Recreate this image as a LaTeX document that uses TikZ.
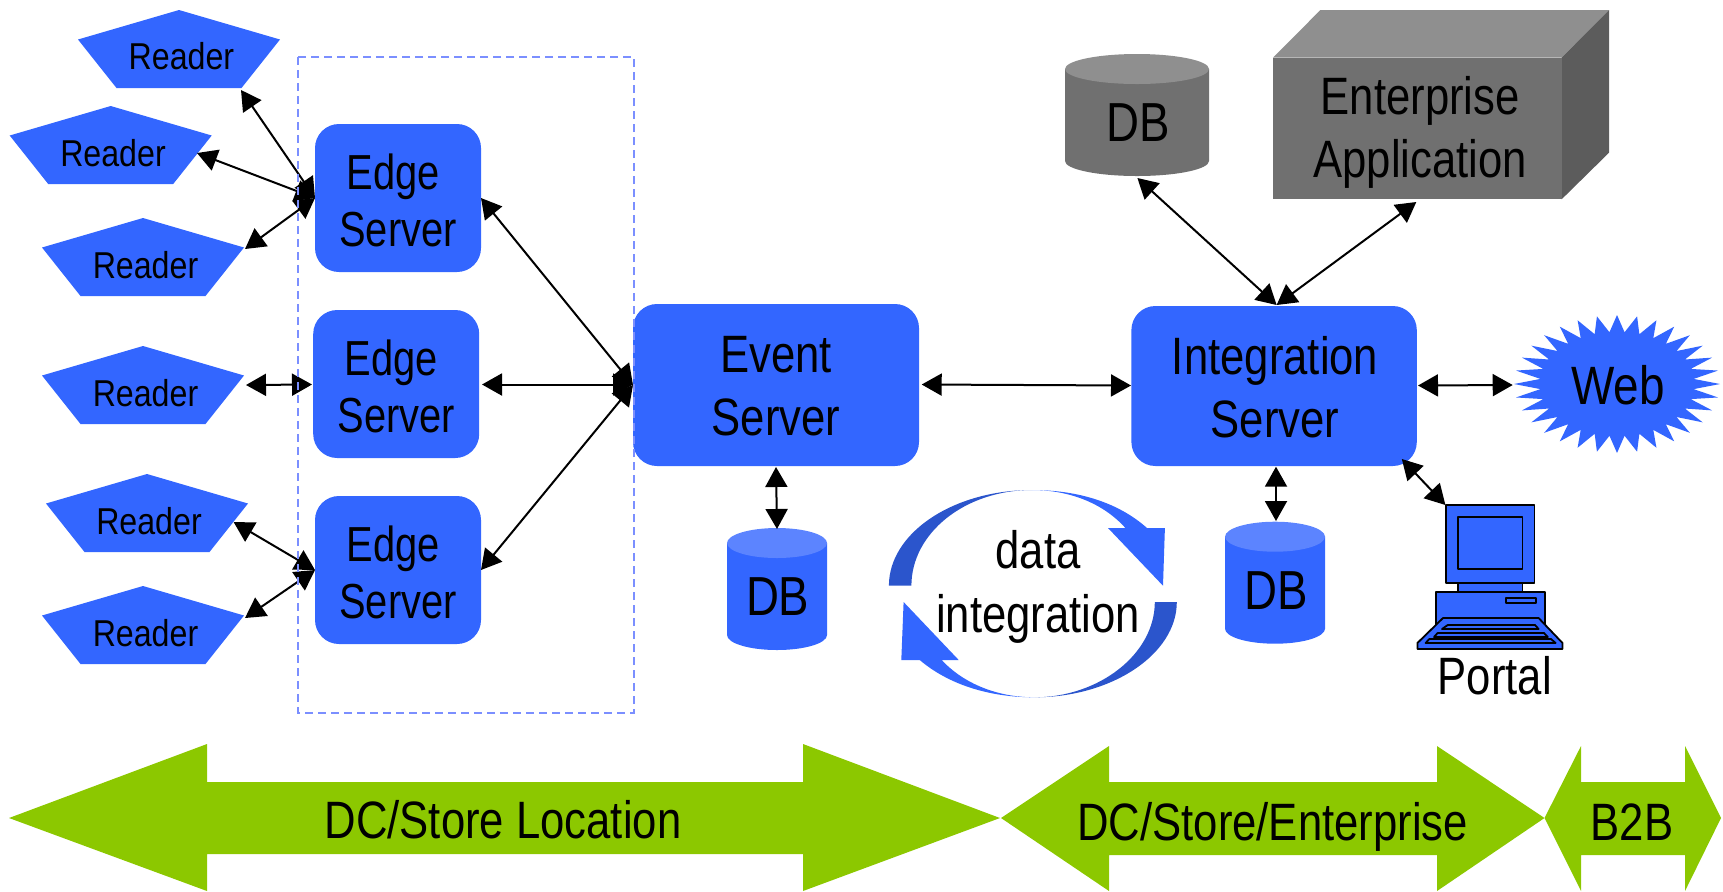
\documentclass[tikz,border=0pt]{standalone}
\usepackage{fontspec}
\usetikzlibrary{arrows.meta}
\setmainfont[FakeStretch=.83]{Liberation Sans}
\newfontfamily\readerfont[FakeStretch=.86]{Liberation Sans}
\newfontfamily\edgefont[FakeStretch=.81]{Liberation Sans}
\newfontfamily\dbfont[FakeStretch=.83]{Liberation Sans}
\newfontfamily\webfont[FakeStretch=.85]{Liberation Sans}
\definecolor{ibmblue}{HTML}{3366FF}
\definecolor{lightblue}{HTML}{5C84FF}
\definecolor{darkblue}{HTML}{2B55CC}
\definecolor{dashblue}{HTML}{7B8FFF}
\definecolor{green1}{HTML}{8CC800}
\definecolor{gray1}{HTML}{707070}
\definecolor{gray2}{HTML}{8F8F8F}
\definecolor{gray3}{HTML}{5C5C5C}
\tikzset{
  server/.style={fill=ibmblue,rounded corners=12pt,inner sep=0pt,outer sep=0pt,align=center,font=\fontsize{26.3}{31.7}\selectfont},
  edgebox/.style={server,minimum width=83pt,minimum height=74pt,font=\edgefont\fontsize{24.6}{28.5}\selectfont},
  readertext/.style={anchor=base,inner sep=0pt,font=\readerfont\fontsize{18.7}{20}\selectfont},
  bigtext/.style={anchor=base,inner sep=0pt,font=\fontsize{26.3}{30}\selectfont},
  dbtext/.style={inner sep=0pt,font=\dbfont\fontsize{27.5}{30}\selectfont},
  link/.style={line width=1pt,{Triangle[length=10pt,width=11pt]}-{Triangle[length=10pt,width=11pt]}},
  pc/.style={fill=ibmblue,draw=black,line width=.9pt,line join=round},
}
\newcommand{\readershape}[2]{\fill[ibmblue] (#1,#2) -- ({#1+101},{#2+29.5}) -- ({#1+62.5},{#2+78}) -- ({#1-62.5},{#2+78}) -- ({#1-101},{#2+29.5}) -- cycle;}
\newcommand{\cylshape}[6]{%
  \fill[#5] ({#1-#4},#2) -- ({#1-#4},#3) arc[start angle=180,end angle=360,x radius=#4*.5pt,y radius=7.5pt] -- ({#1+#4},#2) -- cycle;
  \fill[#6] (#1,#2) ellipse[x radius=#4*.5pt,y radius=7.5pt];}
\begin{document}
\begin{tikzpicture}[x=.5pt,y=-.5pt]
\useasboundingbox (0,0) rectangle (1723,891);
% green bands
\fill[green1] (9,818) -- (207,744) -- (207,782) -- (803,782) -- (803,744) -- (1000,818) -- (803,891) -- (803,854) -- (207,854) -- (207,891) -- cycle;
\fill[green1] (1001,818) -- (1109,746) -- (1109,782) -- (1437,782) -- (1437,746) -- (1544.5,818) -- (1437,891) -- (1437,855) -- (1109,855) -- (1109,891) -- cycle;
\fill[green1] (1544.5,818) -- (1581,746) -- (1581,782) -- (1685,782) -- (1685,746) -- (1721,818) -- (1685,891) -- (1685,855) -- (1581,855) -- (1581,891) -- cycle;
\node[bigtext] (lblA) at (503,838.5) {DC/Store Location};
\node[bigtext] (lblB) at (1272.6,840) {DC/Store/Enterprise};
\node[bigtext] (lblC) at (1632,840) {B2B};
% readers
\readershape{179}{10}
\readershape{110.7}{106}
\readershape{143}{218}
\readershape{143}{346}
\readershape{147}{474}
\readershape{143}{586}
\node[readertext] (r1) at (181.4,69.8) {Reader};
\node[readertext] (r2) at (113,166.2) {Reader};
\node[readertext] (r3) at (145.5,278.2) {Reader};
\node[readertext] (r4) at (145.5,406.2) {Reader};
\node[readertext] (r5) at (149,534.5) {Reader};
\node[readertext] (r6) at (145.5,646.2) {Reader};
\coordinate (r1p) at (241,90);
\coordinate (r2p) at (197,153);
\coordinate (r3p) at (245,249);
\coordinate (r4p) at (246,385);
\coordinate (r5p) at (233.6,522);
\coordinate (r6p) at (245,618);
% servers
\node[edgebox] (edge1) at (398,198) {\rule{0pt}{20pt}Edge\hspace*{5pt}\\Server};
\node[edgebox] (edge2) at (396.2,384) {\rule{0pt}{20pt}Edge\hspace*{5pt}\\Server};
\node[edgebox] (edge3) at (398,570) {\rule{0pt}{20pt}Edge\hspace*{5pt}\\Server};
\node[server,minimum width=143pt,minimum height=81pt] (event) at (776,385) {\rule{0pt}{19.5pt}Event\\Server};
\node[server,minimum width=142.7pt,minimum height=80pt] (integ) at (1274.1,386) {\rule{0pt}{20.5pt}\hspace*{1pt}Integration\\\hspace*{1pt}Server};
% blue DBs
\cylshape{777}{543}{635}{50}{ibmblue}{lightblue}
\node[dbtext] (db1) at (777.7,596.5) {DB};
\coordinate (db1top) at (777,529);
\cylshape{1275}{536.7}{628.7}{50}{ibmblue}{lightblue}
\node[dbtext] (db3) at (1276.2,590.5) {DB};
\coordinate (db3top) at (1276,521);
% gray DB
\cylshape{1137}{69}{161}{72}{gray1}{gray2}
\node[dbtext] (db2) at (1138.3,122.5) {DB};
\coordinate (db2bot) at (1137.4,178);
% enterprise box
\fill[gray2] (1273,57.7) -- (1320.4,10) -- (1609,10) -- (1561.6,57.7) -- cycle;
\fill[gray3] (1561.6,57.7) -- (1609,10) -- (1609,152.7) -- (1561.6,199.3) -- cycle;
\node[fill=gray1,minimum width=144.3pt,minimum height=70.8pt,inner sep=0pt,outer sep=0pt,align=center,font=\fontsize{26.3}{31.7}\selectfont] (ent) at (1417.3,128.5) {\rule{0pt}{23pt}\hspace*{3pt}Enterprise\\\hspace*{3pt}Application};
\coordinate (entbot) at (1416.3,202);
% web
\fill[ibmblue] plot[samples=64,domain=0:63,variable=\i] ({1617+ifthenelse(mod(\i,2)==0,103,77)*cos(\i*5.625)},{384+ifthenelse(mod(\i,2)==0,69,52)*sin(\i*5.625)}) -- cycle;
\node[inner sep=0pt,font=\webfont\fontsize{27}{30}\selectfont] (web) at (1618,385) {Web};
\coordinate (webl) at (1512.7,385);
% data integration
\fill[darkblue] (888.9,585.7) .. controls (888.9,533) and (953,490) .. (1032,490) .. controls (965,490) and (911.4,533) .. (911.4,585.7) -- cycle;
\fill[ibmblue] (1032,490) .. controls (1079,490) and (1119,503) .. (1147,528) -- (1164.9,528) -- (1163,585.7) -- (1108,528) -- (1125.4,528) .. controls (1103,503) and (1069,490) .. (1032,490) -- cycle;
\fill[darkblue] (1176.8,602) .. controls (1176.8,654) and (1112,697.3) .. (1034.5,697.3) .. controls (1099,697.3) and (1154.8,654) .. (1154.8,602) -- cycle;
\fill[ibmblue] (1034.5,697.3) .. controls (988,697.3) and (948,684) .. (919.7,660) -- (901.3,660) -- (903.6,602) -- (958.7,660) -- (941.7,660) .. controls (964,684) and (998,697.3) .. (1034.5,697.3) -- cycle;
\node[inner sep=0pt,align=center,font=\fontsize{26.3}{32}\selectfont] (dataint) at (1038,587) {data\\integration};
% computer
\draw[pc] (1457.8,582.7) rectangle (1522.5,592);
\draw[pc] (1445.9,505) rectangle (1534.5,582.7);
\draw[pc] (1457.8,516.7) rectangle (1522.5,568.7);
\draw[pc] (1436,592) rectangle (1544.6,626);
\draw[pc] (1506,598) rectangle (1536.3,603);
\draw[pc] (1443,618) -- (1538.6,618) -- (1562.5,643) -- (1562.5,649) -- (1417.4,649) -- (1417.4,643) -- cycle;
\draw[pc] (1447.7,625) -- (1535,625) -- (1538.6,629) -- (1442,629) -- cycle;
\draw[pc] (1437.6,633) -- (1544,633) -- (1547.8,637) -- (1434,637) -- cycle;
\draw[pc] (1429.3,639) -- (1551,639) -- (1555.6,643) -- (1425.6,643) -- cycle;
\coordinate (pcc) at (1445.4,505);
\node[bigtext] (portal) at (1494.7,694.8) {Portal};
% connectors
\coordinate (edge2e) at (482,384.5);
\coordinate (edge2w) at (312,384.5);
\coordinate (eventw) at (633,385);
\coordinate (eventw2) at (633,384.5);
\coordinate (eventn) at (776,467);
\coordinate (evente) at (921.7,384.5);
\coordinate (integw) at (1131,385.5);
\coordinate (intege) at (1418,385.5);
\coordinate (integn) at (1276.6,305);
\coordinate (integs) at (1276,466.7);
\coordinate (integc) at (1401.8,459);
\draw[link] (r1p) -- (edge1.west);
\draw[link] (r2p) -- (edge1.west);
\draw[link] (r3p) -- (edge1.west);
\draw[link] (r4p) -- (edge2w);
\draw[link] (r5p) -- (edge3.west);
\draw[link] (r6p) -- (edge3.west);
\draw[link] (edge1.east) -- (eventw);
\draw[link] (edge2e) -- (eventw2);
\draw[link] (edge3.east) -- (eventw);
\draw[link] (evente) -- (integw);
\draw[link] (eventn) -- (db1top);
\draw[link] (db2bot) -- (integn);
\draw[link] (entbot) -- (integn);
\draw[link] (intege) -- (webl);
\draw[link] (integs) -- (db3top);
\draw[link] (integc) -- (pcc);
% dashed frame
\draw[dashblue,line width=.8pt,dash pattern=on 4pt off 2.5pt] (298,57) rectangle (634,713);
\end{tikzpicture}
\end{document}
